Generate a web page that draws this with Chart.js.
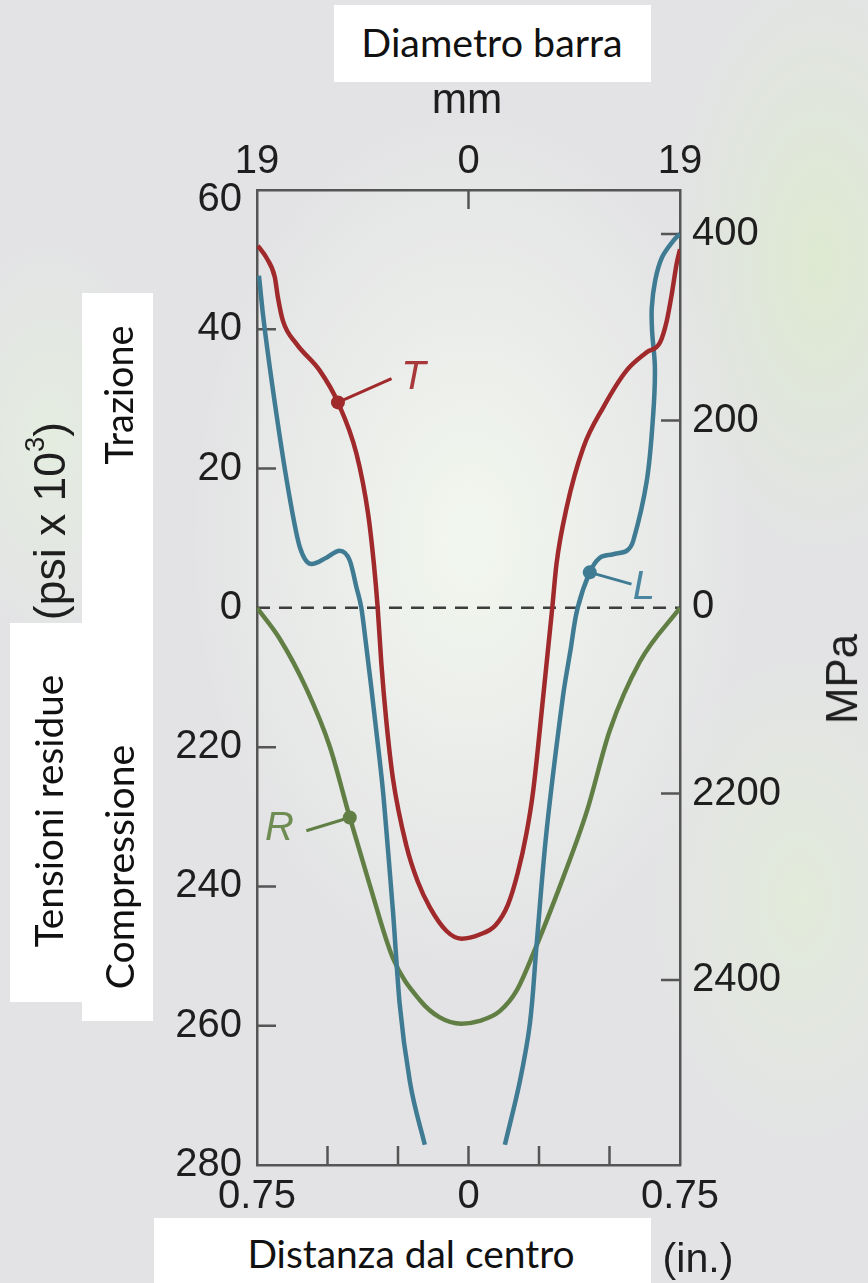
<!DOCTYPE html>
<html>
<head>
<meta charset="utf-8">
<script src="https://cdn.jsdelivr.net/npm/chart.js@4.4.0/dist/chart.umd.min.js"></script>
<style>
  html, body { margin: 0; padding: 0; }
  body {
    width: 868px; height: 1283px; position: relative; overflow: hidden;
    background:
      radial-gradient(ellipse 280px 430px at 470px 540px, rgba(243,248,239,0.95), rgba(243,248,239,0) 100%),
      radial-gradient(ellipse 150px 300px at 820px 260px, rgba(220,236,203,0.75), rgba(220,236,203,0) 100%),
      radial-gradient(ellipse 150px 250px at 800px 900px, rgba(226,238,214,0.7), rgba(226,238,214,0) 100%),
      radial-gradient(ellipse 110px 200px at 50px 440px, rgba(229,240,222,0.75), rgba(229,240,222,0) 100%),
      #e3e3e5;
  }
  canvas { position: absolute; left: 0; top: 0; }
  .box { position: absolute; background: #fff; }
  .lbl { position: absolute; white-space: nowrap; line-height: 1; color: #111;
         transform: translate(-50%, -50%); }
  .rot { transform: translate(-50%, -50%) rotate(-90deg); }
  .cal { font-family: Lato, "Open Sans", sans-serif; }
  .hel { font-family: "Liberation Sans", Arial, sans-serif; color: #1e1e1e; }
  sup { font-size: 0.62em; vertical-align: 0.75em; line-height: 0; }
</style>
</head>
<body>
<canvas id="chart" width="868" height="1283"></canvas>

<div class="box" style="left:334px;top:5px;width:317px;height:77px"></div>
<div class="box" style="left:154px;top:1218px;width:497px;height:65px"></div>
<div class="box" style="left:82px;top:293px;width:71px;height:728px"></div>
<div class="box" style="left:10px;top:623px;width:143px;height:379px"></div>

<span class="lbl cal" data-w="261" style="left:492px;top:42px">Diametro barra</span>
<span class="lbl cal" data-w="327" style="left:411px;top:1253px">Distanza dal centro</span>
<span class="lbl cal rot" data-w="139" style="left:119px;top:395px">Trazione</span>
<span class="lbl cal rot" data-w="273" style="left:48px;top:811px">Tensioni residue</span>
<span class="lbl cal rot" data-w="245" style="left:119px;top:867px">Compressione</span>
<span class="lbl hel" data-w="71" style="left:467px;top:99px">mm</span>
<span class="lbl hel" data-w="71" style="left:698px;top:1259px">(in.)</span>
<span class="lbl hel rot" data-w="90" style="left:842px;top:679px">MPa</span>
<span class="lbl hel rot" data-w="198" style="left:50px;top:521px">(psi x 10<sup>3</sup>)</span>

<script>
// curve T (tangenziale), inches from centre / psi x 10^3
const tX = [-0.747, -0.717, -0.687, -0.676, -0.658, -0.610, -0.528, -0.463, -0.397, -0.356, -0.336, -0.322,
  -0.309, -0.292, -0.268, -0.220, -0.180, -0.137, -0.078, -0.025, 0.040, 0.095, 0.140, 0.175, 0.205, 0.229,
  0.265, 0.297, 0.312, 0.348, 0.407, 0.478, 0.561, 0.632, 0.679, 0.703, 0.721, 0.738, 0.750];
const tY = [52.0, 50.3, 47.5, 44.6, 41.2, 37.9, 34.1, 29.5, 22.1, 13.5, 6.5, 0,
  -8.0, -16.0, -24.5, -34.2, -39.3, -43.0, -46.4, -47.5, -46.9, -45.6, -42.6, -38.0, -32.5, -26.4,
  -12.7, 0, 6.3, 14.4, 23.0, 28.8, 34.1, 36.7, 38.1, 41.2, 45.1, 49.4, 51.5];

// curve L (longitudinale), left branch and right branch
const lX = [-0.743, -0.729, -0.681, -0.634, -0.598, -0.557, -0.504, -0.457, -0.421, -0.397, -0.380, -0.364,
  -0.346, -0.326, -0.304, -0.285, -0.268, -0.244, -0.208, -0.155];
const lY = [47.7, 42.2, 27.8, 15.8, 8.7, 6.3, 7.2, 8.2, 6.8, 2.9, 0, -5.0,
  -11.0, -18.0, -26.0, -35.0, -43.5, -56.9, -68.0, -77.1];
const l2X = [0.129, 0.182, 0.218, 0.241, 0.277, 0.335, 0.362, 0.387, 0.430, 0.466, 0.513, 0.561, 0.584,
  0.632, 0.655, 0.661, 0.651, 0.650, 0.662, 0.686, 0.726, 0.750];
const l2Y = [-77.1, -68.0, -59.6, -48.6, -32.0, -12.7, -6.0, 0, 5.1, 7.2, 7.7, 8.2, 9.6,
  18.2, 27.8, 34.5, 39.8, 43.1, 47.0, 50.3, 52.7, 53.7];

// curve R (radiale)
const rX = [-0.750, -0.670, -0.575, -0.492, -0.421, -0.350, -0.268, -0.173, -0.102, -0.025, 0.040, 0.111,
  0.170, 0.229, 0.336, 0.419, 0.501, 0.608, 0.750];
const rY = [0, -4.4, -11.6, -19.9, -30.1, -39.8, -50.3, -56.3, -58.8, -59.7, -59.3, -57.9,
  -55.0, -49.7, -38.7, -29.3, -17.6, -7.7, 0];

// markers with leader lines and curve letters
const curveNames = ['T', 'L', 'R'];
const markX = [-0.463, 0.430, -0.421];
const markY = [29.5, 5.1, -30.1];
const leadX = [-0.273, 0.578, -0.575];
const leadY = [32.9, 3.4, -32.0];
const nameX = [-0.195, 0.622, -0.670];
const nameY = [33.0, 2.9, -31.7];

// axes
const zeroX = [-0.75, 0.75];
const zeroY = [0, 0];
const inTicks = [-0.75, 0, 0.75];
const inLabels = ['0.75', '0', '0.75'];
const inMinor = [-0.5, -0.25, 0, 0.25, 0.5];
const mmTicks = [-19, 0, 19];
const mmLabels = ['19', '0', '19'];
const mmMinor = [0];
const psiTicks = [60, 40, 20, 0, -20, -40, -60, -80];
const psiLabels = ['60', '40', '20', '0', '220', '240', '260', '280'];
const psiMinor = [40, 20, -20, -40, -60];
const mpaTicks = [400, 200, 0, -200, -400];
const mpaLabels = ['400', '200', '0', '2200', '2400'];
const mpaMinor = [400, 200, -200, -400];

const colors = ['#a0292b', '#3f7b93', '#617f45'];
const nameColors = ['#a8383a', '#4a86a0', '#6f8c52'];

const pts = (xs, ys) => xs.map((x, i) => ({x: x, y: ys[i]}));

// fit the overlay texts to their measured length
document.querySelectorAll('.lbl').forEach((el) => {
  el.style.fontSize = '40px';
  const w = el.offsetWidth;
  el.style.fontSize = (40 * (+el.dataset.w) / w).toFixed(2) + 'px';
});

Chart.defaults.font.family = '"Liberation Sans", Arial, sans-serif';
Chart.defaults.color = '#1e1e1e';

const curve = (data, color, mono) => ({
  data: data,
  borderColor: color,
  borderWidth: 4.5,
  pointRadius: 0,
  tension: 0.35,
  cubicInterpolationMode: mono ? 'monotone' : 'default',
  fill: false,
  order: 2,
});

const datasets = [
  curve(pts(tX, tY), colors[0], true),
  curve(pts(lX, lY), colors[1], true),
  curve(pts(l2X, l2Y), colors[1], false),
  curve(pts(rX, rY), colors[2], true),
  {
    data: pts(zeroX, zeroY),
    borderColor: '#3d3d3d',
    borderWidth: 2.5,
    borderDash: [13, 9],
    pointRadius: 0,
    order: 5,
  },
];

curveNames.forEach((n, i) => {
  datasets.push({
    data: [{x: markX[i], y: markY[i]}, {x: leadX[i], y: leadY[i]}],
    borderColor: colors[i],
    borderWidth: 3,
    pointRadius: [7, 0],
    pointBackgroundColor: colors[i],
    pointBorderWidth: 0,
    tension: 0,
    order: 1,
  });
});

const innerTicks = {
  id: 'innerTicks',
  beforeDatasetsDraw(chart) {
    const {ctx, chartArea: a, scales} = chart;
    const len = 19;
    ctx.save();
    ctx.strokeStyle = '#555';
    ctx.lineWidth = 2.5;
    ctx.beginPath();
    psiMinor.forEach((v) => {
      const y = scales.y.getPixelForValue(v);
      ctx.moveTo(a.left, y);
      ctx.lineTo(a.left + len, y);
    });
    mpaMinor.forEach((v) => {
      const y = scales.y2.getPixelForValue(v);
      ctx.moveTo(a.right, y);
      ctx.lineTo(a.right - len, y);
    });
    inMinor.forEach((v) => {
      const x = scales.x.getPixelForValue(v);
      ctx.moveTo(x, a.bottom);
      ctx.lineTo(x, a.bottom - len);
    });
    mmMinor.forEach((v) => {
      const x = scales.x2.getPixelForValue(v);
      ctx.moveTo(x, a.top);
      ctx.lineTo(x, a.top + len);
    });
    ctx.stroke();
    ctx.restore();
  },
  afterDatasetsDraw(chart) {
    const {ctx, scales} = chart;
    ctx.save();
    ctx.font = 'italic 40px "Liberation Sans", Arial, sans-serif';
    ctx.textAlign = 'center';
    ctx.textBaseline = 'middle';
    curveNames.forEach((n, i) => {
      ctx.fillStyle = nameColors[i];
      ctx.fillText(n, scales.x.getPixelForValue(nameX[i]), scales.y.getPixelForValue(nameY[i]));
    });
    ctx.restore();
  },
};

const frame = {display: true, color: '#555', width: 2.5};

new Chart(document.getElementById('chart'), {
  type: 'line',
  data: {datasets: datasets},
  options: {
    responsive: false,
    devicePixelRatio: 1,
    animation: false,
    layout: {padding: 0},
    plugins: {legend: {display: false}, tooltip: {enabled: false}},
    scales: {
      x: {
        type: 'linear', position: 'bottom', min: -0.75, max: 0.75,
        grid: {display: false, drawTicks: false},
        border: frame,
        afterBuildTicks: (s) => { s.ticks = inTicks.map((v) => ({value: v})); },
        afterFit: (s) => { s.height = 118; },
        ticks: {
          font: {size: 40, lineHeight: 0.8}, padding: 16, maxRotation: 0, autoSkip: false,
          callback: (v, i) => inLabels[i],
        },
      },
      x2: {
        type: 'linear', position: 'top', min: -19, max: 19,
        grid: {display: false, drawTicks: false},
        border: frame,
        afterBuildTicks: (s) => { s.ticks = mmTicks.map((v) => ({value: v})); },
        afterFit: (s) => { s.height = 190; },
        ticks: {
          font: {size: 40, lineHeight: 0.8}, padding: 12, maxRotation: 0, autoSkip: false,
          callback: (v, i) => mmLabels[i],
        },
      },
      y: {
        type: 'linear', position: 'left', min: -80, max: 60,
        grid: {display: false, drawTicks: false},
        border: frame,
        afterBuildTicks: (s) => { s.ticks = psiTicks.map((v) => ({value: v})); },
        afterFit: (s) => { s.width = 257; },
        ticks: {
          font: {size: 40, lineHeight: 0.5}, padding: 15, autoSkip: false,
          // the top label sits a little below its tick, as in the original figure
          callback: (v, i) => (i === 0 ? ['', psiLabels[i]] : psiLabels[i]),
        },
      },
      y2: {
        type: 'linear', position: 'right', min: -598.4, max: 447.2,
        grid: {display: false, drawTicks: false},
        border: frame,
        afterBuildTicks: (s) => { s.ticks = mpaTicks.map((v) => ({value: v})); },
        afterFit: (s) => { s.width = 188; },
        ticks: {
          font: {size: 40}, padding: 12, autoSkip: false,
          callback: (v, i) => mpaLabels[i],
        },
      },
    },
  },
  plugins: [innerTicks],
});
</script>
</body>
</html>
